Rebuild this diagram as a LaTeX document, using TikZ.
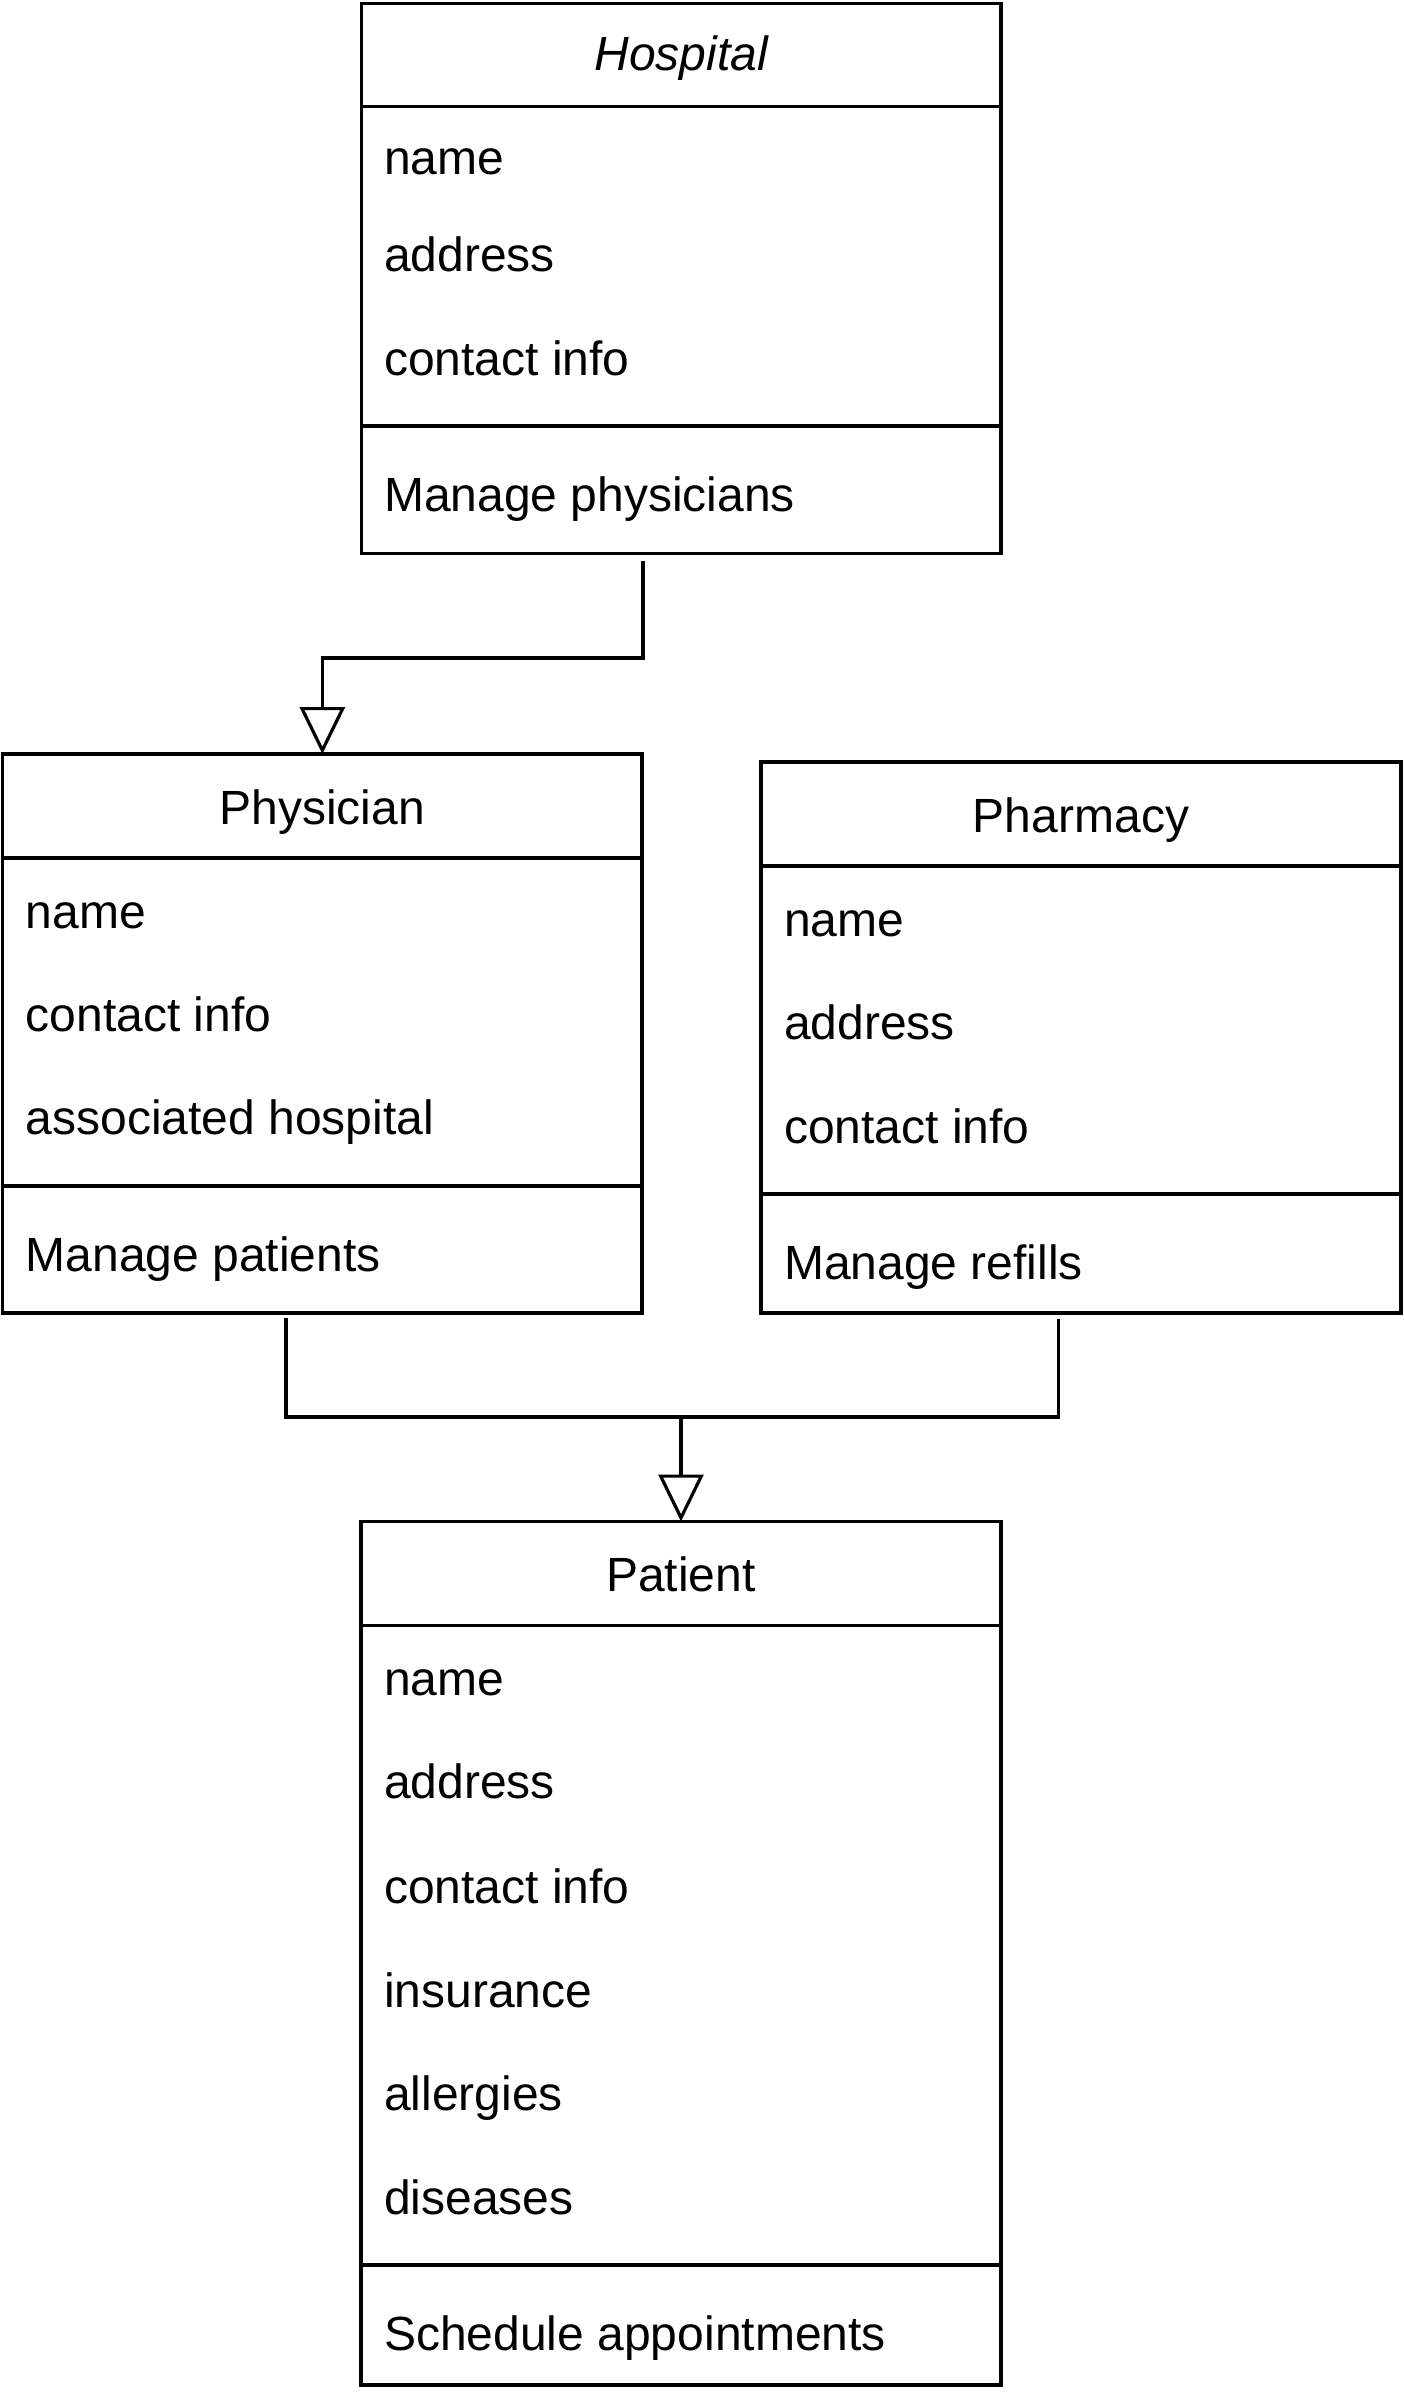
\documentclass[tikz,border=0pt]{standalone}
\usepackage{fontspec}
\setmainfont{Liberation Sans}
\usetikzlibrary{arrows.meta}
\begin{document}
\begin{tikzpicture}[x=1pt,y=-1pt,
  classbox/.style={draw=black, line width=3.5pt, fill=white, inner sep=0pt, outer sep=0pt, anchor=north west},
  divider/.style={draw=black, line width=3.5pt},
  conn/.style={draw=black, line width=3.2pt},
  genarrow/.style={-{Triangle[open, length=47pt, width=45pt, line width=3.2pt]}},
  ttl/.style={font=\fontsize{48pt}{58pt}\selectfont, inner sep=0pt, anchor=base},
  itm/.style={font=\fontsize{48pt}{58pt}\selectfont, inner sep=0pt, anchor=base west}
]
\fill[white] (0,0) rectangle (1404,2400);
\useasboundingbox (0,0) rectangle (1404,2400);

% ---------- Hospital ----------
\node[classbox, minimum width=639.5pt, minimum height=549.8pt] (hosp) at (361.5,3.7) {};
\draw[divider] (361.5,106.5) -- (1001,106.5);
\draw[divider] (361.5,426) -- (1001,426);
\node[ttl, font=\fontsize{48pt}{58pt}\selectfont\itshape] (hospT) at (681.25,71) {Hospital};
\node[itm] (hospA1) at (384,175) {name};
\node[itm] (hospA2) at (384,272) {address};
\node[itm] (hospA3) at (384,375) {contact info};
\node[itm] (hospM1) at (384,511) {Manage physicians};

% ---------- Physician ----------
\node[classbox, minimum width=639.3pt, minimum height=559pt] (phys) at (2.7,754) {};
\draw[divider] (2.7,858) -- (642,858);
\draw[divider] (2.7,1186) -- (642,1186);
\node[ttl] (physT) at (322.35,824) {Physician};
\node[itm] (physA1) at (25.5,928) {name};
\node[itm] (physA2) at (25.5,1031) {contact info};
\node[itm] (physA3) at (25.5,1134) {associated hospital};
\node[itm] (physM1) at (25.5,1271) {Manage patients};

% ---------- Pharmacy ----------
\node[classbox, minimum width=640pt, minimum height=551pt] (pharm) at (761,762) {};
\draw[divider] (761,866) -- (1401,866);
\draw[divider] (761,1194) -- (1401,1194);
\node[ttl] (pharmT) at (1081,832) {Pharmacy};
\node[itm] (pharmA1) at (784,936) {name};
\node[itm] (pharmA2) at (784,1039) {address};
\node[itm] (pharmA3) at (784,1143) {contact info};
\node[itm] (pharmM1) at (784,1279) {Manage refills};

% ---------- Patient ----------
\node[classbox, minimum width=640pt, minimum height=863.5pt] (pat) at (361,1521.5) {};
\draw[divider] (361,1625.5) -- (1001,1625.5);
\draw[divider] (361,2265) -- (1001,2265);
\node[ttl] (patT) at (681,1591) {Patient};
\node[itm] (patA1) at (384,1695) {name};
\node[itm] (patA2) at (384,1798) {address};
\node[itm] (patA3) at (384,1903) {contact info};
\node[itm] (patA4) at (384,2007) {insurance};
\node[itm] (patA5) at (384,2110) {allergies};
\node[itm] (patA6) at (384,2214) {diseases};
\node[itm] (patM1) at (384,2350) {Schedule appointments};

% ---------- Connectors ----------
\coordinate (h1) at (643,561);
\coordinate (hb) at (643,658);
\draw[conn, genarrow] (h1) -- (hb) -| (phys.north);

\coordinate (p1) at (286,1318);
\coordinate (r1) at (1058.5,1319);
\coordinate (m) at (681,1417);
\draw[conn] (p1) |- (m) -| (r1);
\draw[conn, genarrow] (m) -- (pat.north);
\end{tikzpicture}
\end{document}
